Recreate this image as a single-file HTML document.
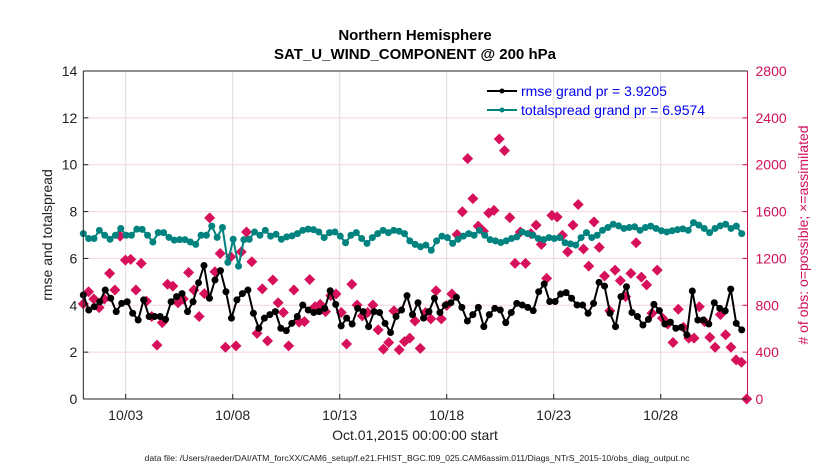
<!DOCTYPE html>
<html><head><meta charset="utf-8"><style>
body{margin:0;background:#fff;}
svg{display:block;font-family:"Liberation Sans",Arial,sans-serif;}
</style></head><body>
<svg id="chart" width="830" height="470" viewBox="0 0 830 470">
<rect x="0" y="0" width="830" height="470" fill="#fff"/>
<text x="415" y="40" text-anchor="middle" font-size="15" font-weight="bold">Northern Hemisphere</text>
<text x="415" y="59" text-anchor="middle" font-size="15" font-weight="bold">SAT_U_WIND_COMPONENT @ 200 hPa</text>
<g id="grid"></g>
<g id="series"></g>
<g id="axes"></g>
<text x="0" y="0" transform="translate(52,235) rotate(-90)" text-anchor="middle" font-size="14" fill="#222">rmse and totalspread</text>
<text x="0" y="0" transform="translate(808,235) rotate(-90)" text-anchor="middle" font-size="14" fill="#d0105a"># of obs: o=possible; ×=assimilated</text>
<text x="415" y="440" text-anchor="middle" font-size="14" fill="#222">Oct.01,2015 00:00:00 start</text>
<text x="417" y="461" text-anchor="middle" font-size="8.6" textLength="545" lengthAdjust="spacingAndGlyphs" fill="#222">data file: /Users/raeder/DAI/ATM_forcXX/CAM6_setup/f.e21.FHIST_BGC.f09_025.CAM6assim.011/Diags_NTrS_2015-10/obs_diag_output.nc</text>
<g>
<line x1="487" y1="91" x2="517" y2="91" stroke="#000" stroke-width="2"/>
<circle cx="502" cy="91" r="2.5" fill="#000"/>
<text x="521" y="96" font-size="14" fill="#0000ee">rmse grand pr = 3.9205</text>
<line x1="487" y1="110" x2="517" y2="110" stroke="#00827f" stroke-width="2"/>
<circle cx="502" cy="110" r="2.5" fill="#00827f"/>
<text x="521" y="115" font-size="14" fill="#0000ee">totalspread grand pr = 6.9574</text>
</g>
</svg>
<script>
const rmse=[4.44,3.8,3.94,4.15,4.65,4.3,3.73,4.08,4.15,3.66,3.37,4.23,3.52,3.52,3.52,3.4,4.15,4.37,4.5,3.73,4.15,4.96,5.7,4.3,5.08,5.48,4.58,3.45,4.23,4.5,4.65,3.66,3.02,3.45,3.6,3.73,3.02,2.92,3.23,3.52,
4.01,3.8,3.69,3.73,3.87,4.62,4.04,3.12,3.45,3.2,3.87,3.73,3.09,3.73,3.69,3.23,2.84,3.52,3.8,4.41,3.6,4.11,3.45,3.73,4.3,3.69,4.01,4.11,4.34,3.91,3.33,3.6,3.91,3.09,3.6,3.87,3.8,3.26,3.69,4.08,4.01,
3.91,3.77,4.58,4.91,4.16,4.16,4.48,4.54,4.3,4.01,4.01,3.66,4.08,4.98,4.82,3.66,3.09,4.37,4.79,3.69,3.52,3.16,3.4,4.04,3.77,3.2,3.28,3.02,3.06,2.74,4.61,3.37,3.37,3.2,4.11,3.87,3.76,4.69,3.23,2.95];
const spread=[7.06,6.85,6.85,7.2,6.99,6.82,6.99,7.28,6.99,6.99,7.25,7.24,6.99,6.7,7.1,7.1,6.9,6.78,6.8,6.8,6.7,6.6,6.99,6.99,7.38,6.9,7.32,5.83,6.82,5.67,6.8,6.82,7.13,6.99,7.2,6.95,7.03,6.82,6.92,6.96,7.06,7.2,7.25,
7.23,7.13,6.89,7.1,7.13,6.95,6.67,6.99,7.1,6.85,6.64,6.89,7.06,7.2,7.1,7.2,7.16,7.06,6.75,6.6,6.5,6.57,6.35,6.75,6.95,6.89,6.64,6.82,6.95,7.06,6.99,7.2,6.99,6.8,6.75,6.68,6.75,6.85,6.92,7.13,7.06,
6.99,6.85,6.8,6.89,6.85,6.89,6.67,6.62,6.57,6.89,7.1,6.89,6.99,7.2,7.32,7.46,7.39,7.28,7.32,7.35,7.2,7.32,7.38,7.28,7.18,7.13,7.18,7.23,7.26,7.2,7.53,7.42,7.28,7.1,7.28,7.39,7.46,7.28,7.38,7.06];
const obsCount=[812,916,854,780,854,1072,930,1390,1186,1192,930,1158,836,704,460,652,980,964,822,854,1080,930,704,900,1546,1086,1242,442,1214,454,1256,1426,1172,560,940,496,1016,822,738,454,930,656,660,
1020,788,808,746,882,896,738,470,980,802,710,738,802,590,426,482,752,420,490,520,666,432,738,684,924,684,798,896,1404,1598,2052,1710,1476,1432,1588,1610,2220,2120,1548,1158,1426,
1158,1412,1484,1320,1030,1568,1554,1398,1256,1484,1660,1280,1134,1512,1294,1050,752,1100,1010,874,1072,1334,1040,974,732,1100,690,640,482,766,612,520,520,788,660,526,442,720,548,442,334,314,0];
const xTickLabels=["10/03","10/08","10/13","10/18","10/23","10/28"];
const xTickDays=[3,8,13,18,23,28];
const yTicksLeft=[0,2,4,6,8,10,12,14];
const yTicksRight=[0,400,800,1200,1600,2000,2400,2800];

const L=83.3,R=747.5,T=71,B=399;
const ns="http://www.w3.org/2000/svg";
function yL(v){return B-(v/14)*(B-T);}
function yR(v){return B-(v/2800)*(B-T);}
function xDay(d){return 125.7+(d-3)*21.4;}
function xIdx(i,n,x0,x1){return x0+(x1-x0)*i/(n-1);}
function mk(tag,attrs,parent){const e=document.createElementNS(ns,tag);for(const k in attrs)e.setAttribute(k,attrs[k]);parent.appendChild(e);return e;}
const grid=document.getElementById('grid'),axes=document.getElementById('axes'),ser=document.getElementById('series');

xTickDays.forEach((d,i)=>{
 const x=xDay(d);
 const gl=mk('line',{x1:x,y1:T,x2:x,y2:B,stroke:'#dcdcdc','stroke-width':1},grid);
 
 
 const tk=mk('line',{x1:x,y1:B,x2:x,y2:B-5,stroke:'#222','stroke-width':1},axes);
 
 
 const t=mk('text',{x:x,y:B+21,'text-anchor':'middle','font-size':14,fill:'#222'},axes);
 t.textContent=xTickLabels[i];
 
 
});
yTicksLeft.forEach(v=>{
 const y=yL(v);
 if(v>0&&v<14){const gl=mk('line',{x1:L,y1:y,x2:R,y2:y,stroke:'#f2d4df','stroke-width':1},grid);
 
 }
 const tk=mk('line',{x1:L,y1:y,x2:L+5,y2:y,stroke:'#222'},axes);
 
 
 const t=mk('text',{x:L-6,y:y+5,'text-anchor':'end','font-size':14,fill:'#222'},axes);
 t.textContent=v;
 
 
});
yTicksRight.forEach(v=>{
 const y=yR(v);
 const tk=mk('line',{x1:R,y1:y,x2:R-5,y2:y,stroke:'#d0105a'},axes);
 
 
 const t=mk('text',{x:R+8,y:y+5,'text-anchor':'start','font-size':14,fill:'#d0105a'},axes);
 t.textContent=v;
 
 
});
let a;
a=mk('line',{x1:L,y1:T,x2:L,y2:B,stroke:'#222'},axes);
a=mk('line',{x1:L,y1:B,x2:R,y2:B,stroke:'#222'},axes);
a=mk('line',{x1:L,y1:T,x2:R,y2:T,stroke:'#222'},axes);
a=mk('line',{x1:R,y1:T,x2:R,y2:B,stroke:'#d0105a'},axes);

obsCount.forEach((v,i)=>{
 const x=xIdx(i,obsCount.length,83.3,746.7),y=yR(v);
 const p=mk('path',{d:`M${x},${y-5.5}L${x+5.5},${y}L${x},${y+5.5}L${x-5.5},${y}Z`,fill:'#d6105a'},ser);
 
 
});
function line(arr,color,name){
 const pts=arr.map((v,i)=>[xIdx(i,arr.length,83.3,741.7),yL(v)]);
 const pl=mk('polyline',{points:pts.map(p=>p.join(',')).join(' '),fill:'none',stroke:color,'stroke-width':2},ser);
 
 
 pts.forEach(p=>{const c=mk('circle',{cx:p[0],cy:p[1],r:3.5,fill:color},ser);
 
 });
}
line(spread,'#00827f','totalspread');
line(rmse,'#000','rmse');
</script>
</body></html>
